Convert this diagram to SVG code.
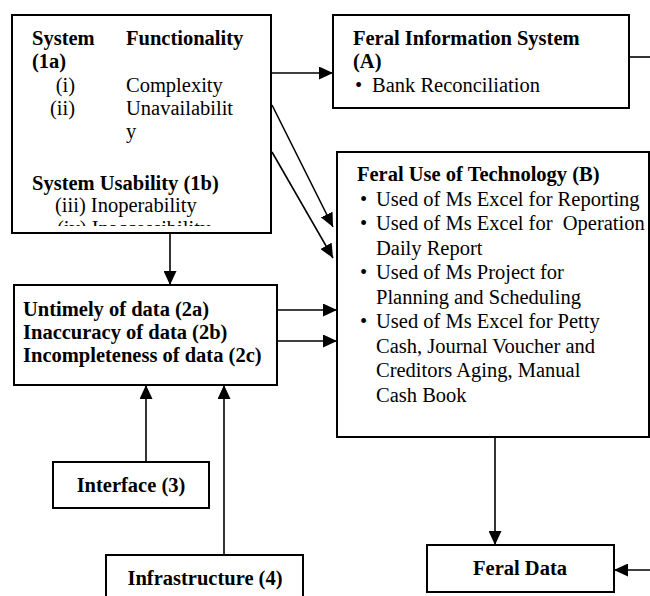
<svg xmlns="http://www.w3.org/2000/svg" width="650" height="596" viewBox="0 0 650 596">
<style>
  .box { fill: #fff; stroke: #000; stroke-width: 2; }
  .t { font-family: "Liberation Serif", "Times New Roman", serif; font-size: 20.5px; fill: #000; }
  .b { font-weight: bold; }
  .c { text-anchor: middle; }
  .e { text-anchor: end; }
  .conn line { stroke: #000; stroke-width: 1.6; fill: none; }
  .arr { marker-end: url(#ah); }
</style>
<defs>
  <marker id="ah" markerUnits="userSpaceOnUse" markerWidth="15" markerHeight="13" refX="14" refY="6.5" orient="auto">
    <path d="M0,0 L14,6.5 L0,13 z" fill="#000"/>
  </marker>
  <clipPath id="clip1"><rect x="13" y="16" width="257" height="210"/></clipPath>
</defs>
<rect width="650" height="596" fill="#fff"/>

<g id="conn" class="conn">
  <line class="arr" x1="271" y1="73" x2="333" y2="73"/>
  <line x1="629" y1="57" x2="650" y2="57"/>
  <line class="arr" x1="272" y1="105" x2="333" y2="227"/>
  <line class="arr" x1="272" y1="152" x2="333" y2="258"/>
  <line class="arr" x1="170" y1="233" x2="170" y2="285"/>
  <line class="arr" x1="277" y1="310" x2="337" y2="310"/>
  <line class="arr" x1="277" y1="341" x2="337" y2="341"/>
  <line class="arr" x1="146" y1="462" x2="146" y2="385"/>
  <line class="arr" x1="224" y1="555" x2="224" y2="385"/>
  <line class="arr" x1="495" y1="437" x2="495" y2="545"/>
  <line class="arr" x1="650" y1="570" x2="614" y2="570"/>
</g>

<g id="node1">
  <rect class="box" x="12" y="15" width="259" height="218"/>
  <g clip-path="url(#clip1)">
    <text class="t b" x="32" y="45">System</text>
    <text class="t b" x="126" y="45">Functionality</text>
    <text class="t b" x="32" y="68">(1a)</text>
    <text class="t e" x="75" y="92">(i)</text>
    <text class="t" x="126" y="92">Complexity</text>
    <text class="t e" x="75" y="115">(ii)</text>
    <text class="t" x="126" y="115">Unavailabilit</text>
    <text class="t" x="126" y="138">y</text>
    <text class="t b" x="32" y="190">System Usability (1b)</text>
    <text class="t" x="55" y="212">(iii) Inoperability</text>
    <text class="t" x="57" y="235">(iv) Inaccessibility</text>
  </g>
</g>

<g id="nodeA">
  <rect class="box" x="333" y="15" width="296" height="93"/>
  <text class="t b" x="353" y="45">Feral Information System</text>
  <text class="t b" x="353" y="68">(A)</text>
  <text class="t" x="355" y="92">•</text>
  <text class="t" x="372" y="92">Bank Reconciliation</text>
</g>

<g id="nodeB">
  <rect class="box" x="337" y="152" width="312" height="285"/>
  <text class="t b" x="357" y="181">Feral Use of Technology (B)</text>
  <text class="t" x="360" y="205.5">•</text>
  <text class="t" x="376" y="205.5">Used of Ms Excel for Reporting</text>
  <text class="t" x="360" y="230">•</text>
  <text class="t" x="376" y="230" xml:space="preserve">Used of Ms Excel for  Operation</text>
  <text class="t" x="376" y="254.5">Daily Report</text>
  <text class="t" x="360" y="279">•</text>
  <text class="t" x="376" y="279">Used of Ms Project for</text>
  <text class="t" x="376" y="303.5">Planning and Scheduling</text>
  <text class="t" x="360" y="328">•</text>
  <text class="t" x="376" y="328">Used of Ms Excel for Petty</text>
  <text class="t" x="376" y="352.5">Cash, Journal Voucher and</text>
  <text class="t" x="376" y="377">Creditors Aging, Manual</text>
  <text class="t" x="376" y="401.5">Cash Book</text>
</g>

<g id="node2">
  <rect class="box" x="14" y="285" width="263" height="100"/>
  <text class="t b" x="23" y="316">Untimely of data (2a)</text>
  <text class="t b" x="23" y="339">Inaccuracy of data (2b)</text>
  <text class="t b" x="23" y="362">Incompleteness of data (2c)</text>
</g>

<g id="node3">
  <rect class="box" x="53" y="462" width="156" height="46"/>
  <text class="t b c" x="131" y="492">Interface (3)</text>
</g>

<g id="node4">
  <rect class="box" x="106" y="555" width="197" height="50"/>
  <text class="t b c" x="205" y="585">Infrastructure (4)</text>
</g>

<g id="nodeData">
  <rect class="box" x="427" y="545" width="187" height="47"/>
  <text class="t b c" x="520" y="575">Feral Data</text>
</g>
</svg>
